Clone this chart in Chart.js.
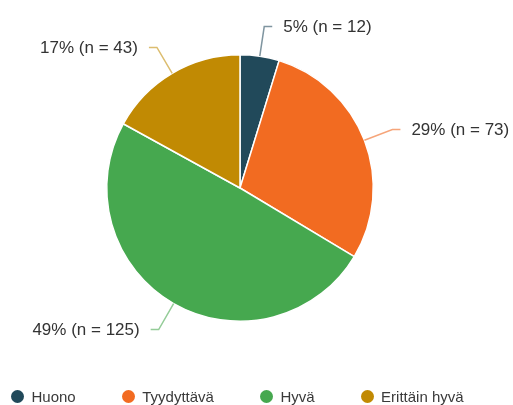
<!DOCTYPE html>
<html>
<head>
<meta charset="utf-8">
<script src="https://cdn.jsdelivr.net/npm/chart.js@4.4.1/dist/chart.umd.min.js"></script>
<style>
  html, body { margin: 0; padding: 0; background: #fff; }
  #wrap { position: relative; width: 513px; height: 405px; }
  #legend {
    position: absolute; left: 11px; top: 388px;
    display: flex; align-items: center; gap: 46px;
    font: 15px "Liberation Sans", Arial, sans-serif; color: #3a3a3a;
  }
  #legend .item { display: flex; align-items: center; }
  #legend .dot { width: 13px; height: 13px; border-radius: 50%; margin-right: 7.5px; }
</style>
</head>
<body>
<div id="wrap">
  <canvas id="pie" width="513" height="405"></canvas>
  <div id="legend"></div>
</div>
<script>
  const categories = ['Huono', 'Tyydyttävä', 'Hyvä', 'Erittäin hyvä'];
  const counts     = [12, 73, 125, 43];
  const colors     = ['#21495a', '#f26b21', '#46a84f', '#c18a03'];
  const lineColors = ['#7f95a0', '#f6a57a', '#94cc98', '#dcbd6f'];

  const total = counts.reduce((s, v) => s + v, 0);

  // leader lines + "x% (n = y)" labels outside the slices
  const outLabels = {
    id: 'outLabels',
    afterDatasetsDraw(chart) {
      const ctx  = chart.ctx;
      const arcs = chart.getDatasetMeta(0).data;
      ctx.save();
      ctx.font = '17px "Liberation Sans", Arial, sans-serif';
      ctx.textBaseline = 'middle';
      arcs.forEach((arc, i) => {
        const { x, y, startAngle, endAngle, outerRadius } = arc.getProps(['x', 'y', 'startAngle', 'endAngle', 'outerRadius'], true);
        const mid = (startAngle + endAngle) / 2;
        const cos = Math.cos(mid), sin = Math.sin(mid);
        const x0 = x + outerRadius * cos, y0 = y + outerRadius * sin;
        const x1 = x + (outerRadius + 30) * cos, y1 = y + (outerRadius + 30) * sin;
        const right = cos >= 0;
        const x2 = x1 + (right ? 8 : -8);

        ctx.strokeStyle = lineColors[i];
        ctx.lineWidth = 1.5;
        ctx.beginPath();
        ctx.moveTo(x0, y0);
        ctx.lineTo(x1, y1);
        ctx.lineTo(x2, y1);
        ctx.stroke();

        const pct = Math.round(counts[i] / total * 100);
        ctx.fillStyle = '#333';
        ctx.textAlign = right ? 'left' : 'right';
        ctx.fillText(pct + '% (n = ' + counts[i] + ')', x2 + (right ? 11 : -11), y1 + 1);
      });
      ctx.restore();
    }
  };

  const chart = new Chart(document.getElementById('pie'), {
    type: 'pie',
    data: {
      labels: categories,
      datasets: [{ data: counts, backgroundColor: colors, borderColor: '#fff', borderWidth: 1.5 }]
    },
    options: {
      responsive: false,
      animation: false,
      layout: { padding: { top: 54, left: 106, right: 139, bottom: 83 } },
      plugins: { legend: { display: false }, tooltip: { enabled: false } }
    },
    plugins: [outLabels]
  });

  // html legend from the chart's own legend items
  const items = Chart.overrides.pie.plugins.legend.labels.generateLabels(chart);
  document.getElementById('legend').innerHTML = items.map(it =>
    `<div class="item"><span class="dot" style="background:${it.fillStyle}"></span>${it.text}</div>`
  ).join('');
</script>
</body>
</html>
